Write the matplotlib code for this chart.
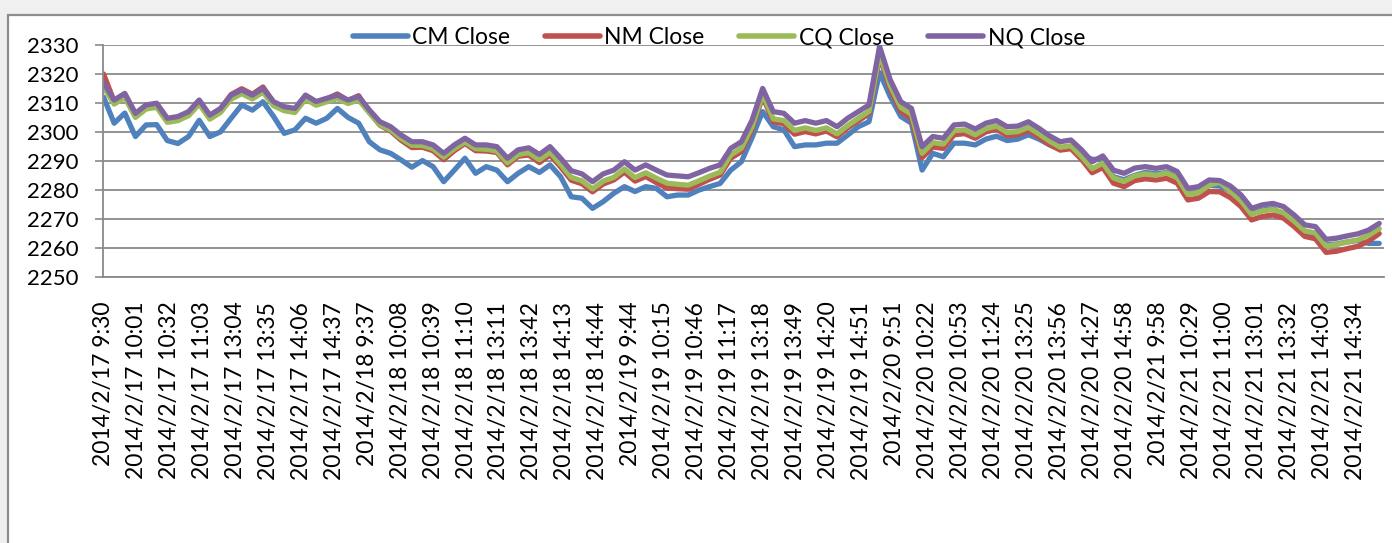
import numpy as np
import matplotlib
matplotlib.use("Agg")
import matplotlib.pyplot as plt
from matplotlib.patches import Rectangle

plt.rcParams['font.family'] = ['Lato', 'DejaVu Sans']

# tick labels, one every 31 minute-bars
tick_labels = [
    "2014/2/17 9:30", "2014/2/17 10:01", "2014/2/17 10:32", "2014/2/17 11:03",
    "2014/2/17 13:04", "2014/2/17 13:35", "2014/2/17 14:06", "2014/2/17 14:37",
    "2014/2/18 9:37", "2014/2/18 10:08", "2014/2/18 10:39", "2014/2/18 11:10",
    "2014/2/18 13:11", "2014/2/18 13:42", "2014/2/18 14:13", "2014/2/18 14:44",
    "2014/2/19 9:44", "2014/2/19 10:15", "2014/2/19 10:46", "2014/2/19 11:17",
    "2014/2/19 13:18", "2014/2/19 13:49", "2014/2/19 14:20", "2014/2/19 14:51",
    "2014/2/20 9:51", "2014/2/20 10:22", "2014/2/20 10:53", "2014/2/20 11:24",
    "2014/2/20 13:25", "2014/2/20 13:56", "2014/2/20 14:27", "2014/2/20 14:58",
    "2014/2/21 9:58", "2014/2/21 10:29", "2014/2/21 11:00", "2014/2/21 13:01",
    "2014/2/21 13:32", "2014/2/21 14:03", "2014/2/21 14:34",
]
n_bars = 1205          # minute bars in the 5 days
label_step = 31
sample_step = 10       # values below read every 10 bars

cm_close = [
    2312.0, 2303.0, 2306.5, 2298.4, 2302.4, 2302.5, 2297.0, 2296.0, 2298.4, 2304.0,
    2298.4, 2300.0, 2304.7, 2309.3, 2307.5, 2310.4, 2305.3, 2299.5, 2300.7, 2304.7,
    2303.0, 2304.7, 2308.1, 2305.0, 2303.0, 2296.6, 2293.8, 2292.6, 2290.3, 2287.8,
    2290.1, 2288.0, 2282.8, 2286.8, 2290.9, 2285.7, 2288.0, 2286.8, 2282.8, 2285.7,
    2288.0, 2286.0, 2288.6, 2284.5, 2277.6, 2277.1, 2273.6, 2275.9, 2278.8, 2281.1,
    2279.4, 2281.1, 2280.5, 2277.6, 2278.2, 2278.2, 2279.9, 2281.1, 2282.2, 2286.8,
    2289.7, 2298.0, 2307.0, 2301.8, 2300.7, 2294.9, 2295.5, 2295.5, 2296.1, 2296.1,
    2298.9, 2301.8, 2303.5, 2320.5, 2312.2, 2305.3, 2303.0, 2286.8, 2292.6, 2291.4,
    2296.1, 2296.1, 2295.5, 2297.5, 2298.5, 2297.0, 2297.5, 2299.0, 2297.5, 2295.5,
    2294.0, 2294.5, 2292.0, 2290.5, 2290.5, 2284.5, 2283.5, 2285.0, 2286.0, 2285.5,
    2286.0, 2284.5, 2278.5, 2279.0, 2281.5, 2281.3, 2279.5, 2276.5, 2271.8, 2273.0,
    2273.5, 2271.5, 2268.3, 2265.2, 2264.5, 2261.0, 2261.3, 2262.0, 2262.5, 2261.5,
    2261.5,
]
nm_close = [
    2320.0, 2310.5, 2312.9, 2305.9, 2309.0, 2309.5, 2304.4, 2304.8, 2306.7, 2310.8,
    2305.4, 2307.8, 2312.9, 2314.9, 2313.0, 2315.5, 2310.2, 2308.4, 2307.7, 2312.5,
    2310.2, 2311.4, 2313.1, 2310.8, 2312.5, 2306.8, 2302.3, 2300.3, 2297.1, 2294.6,
    2294.7, 2293.5, 2290.4, 2293.5, 2296.0, 2293.5, 2293.4, 2292.9, 2288.6, 2291.6,
    2292.0, 2289.4, 2292.0, 2287.9, 2283.3, 2282.1, 2279.3, 2282.0, 2283.4, 2286.1,
    2283.0, 2284.6, 2282.5, 2280.6, 2280.4, 2280.2, 2281.9, 2283.6, 2285.1, 2290.9,
    2293.2, 2300.8, 2312.2, 2303.5, 2302.8, 2299.2, 2300.1, 2299.3, 2300.3, 2298.3,
    2301.4, 2303.8, 2306.3, 2326.0, 2314.8, 2307.1, 2304.6, 2291.1, 2294.8, 2294.3,
    2299.0, 2299.4, 2297.8, 2300.0, 2300.9, 2298.7, 2299.0, 2300.5, 2298.2, 2295.6,
    2293.7, 2294.2, 2290.5, 2285.9, 2287.7, 2282.3, 2281.1, 2283.2, 2283.8, 2283.4,
    2284.0, 2282.3, 2276.5, 2277.1, 2279.4, 2279.3, 2277.3, 2274.2, 2269.6, 2270.8,
    2271.3, 2270.2, 2267.3, 2263.9, 2263.1, 2258.4, 2258.8, 2259.7, 2260.5, 2262.3,
    2264.9,
]
cq_close = [
    2315.5, 2309.6, 2311.9, 2305.0, 2307.9, 2308.5, 2303.3, 2303.9, 2305.6, 2309.6,
    2304.4, 2306.7, 2311.3, 2313.2, 2311.4, 2313.7, 2309.0, 2307.3, 2306.7, 2311.3,
    2309.2, 2310.4, 2311.5, 2309.8, 2311.0, 2306.6, 2302.4, 2300.7, 2297.7, 2295.4,
    2295.3, 2294.2, 2291.3, 2294.2, 2296.5, 2294.2, 2294.0, 2293.4, 2289.3, 2292.2,
    2292.8, 2290.4, 2293.0, 2288.8, 2284.3, 2283.1, 2280.3, 2283.0, 2284.3, 2287.2,
    2284.2, 2285.9, 2284.0, 2282.3, 2281.9, 2281.6, 2283.1, 2284.7, 2286.1, 2292.0,
    2294.4, 2301.8, 2313.0, 2304.5, 2303.9, 2300.5, 2301.4, 2300.5, 2301.4, 2299.3,
    2302.2, 2304.7, 2307.1, 2327.0, 2316.0, 2308.4, 2306.1, 2292.6, 2296.3, 2295.8,
    2300.4, 2300.7, 2299.0, 2301.1, 2302.0, 2299.8, 2300.1, 2301.6, 2299.3, 2296.8,
    2294.7, 2295.2, 2291.5, 2287.3, 2289.2, 2284.1, 2282.9, 2284.8, 2285.5, 2285.0,
    2285.8, 2284.2, 2278.4, 2279.0, 2281.6, 2282.6, 2279.5, 2276.2, 2271.5, 2272.7,
    2273.2, 2272.1, 2269.2, 2265.8, 2265.1, 2260.6, 2261.1, 2262.0, 2262.7, 2264.3,
    2266.6,
]
nq_close = [
    2317.0, 2311.0, 2313.3, 2306.4, 2309.3, 2309.9, 2304.7, 2305.3, 2307.0, 2311.0,
    2305.8, 2308.1, 2312.7, 2314.5, 2312.7, 2315.0, 2310.4, 2308.7, 2308.1, 2312.7,
    2310.5, 2311.6, 2312.7, 2311.0, 2312.2, 2307.6, 2303.5, 2301.8, 2298.9, 2296.6,
    2296.6, 2295.5, 2292.6, 2295.5, 2297.8, 2295.5, 2295.5, 2294.9, 2290.9, 2293.8,
    2294.5, 2292.2, 2294.9, 2290.9, 2286.6, 2285.5, 2282.8, 2285.5, 2286.8, 2289.7,
    2286.8, 2288.6, 2286.8, 2285.1, 2284.8, 2284.5, 2285.9, 2287.4, 2288.6, 2294.3,
    2296.6, 2304.0, 2315.0, 2307.0, 2306.4, 2303.0, 2303.9, 2303.0, 2303.9, 2301.8,
    2304.7, 2307.0, 2309.3, 2329.5, 2318.0, 2310.4, 2308.1, 2294.9, 2298.4, 2297.8,
    2302.4, 2302.7, 2301.0, 2303.0, 2303.9, 2301.8, 2302.0, 2303.5, 2301.2, 2298.6,
    2296.6, 2297.2, 2293.8, 2289.7, 2291.7, 2286.8, 2285.7, 2287.5, 2288.0, 2287.4,
    2288.0, 2286.3, 2280.5, 2281.1, 2283.4, 2283.2, 2281.3, 2278.2, 2273.6, 2274.8,
    2275.3, 2274.2, 2271.3, 2267.9, 2267.3, 2262.9, 2263.3, 2264.1, 2264.8, 2266.1,
    2268.4,
]

series = [("CM Close", cm_close, "#4f81bd"),
          ("NM Close", nm_close, "#c0504d"),
          ("CQ Close", cq_close, "#9bbb59"),
          ("NQ Close", nq_close, "#8064a2")]

W, H = 1392, 543
fig = plt.figure(figsize=(W / 100, H / 100), dpi=100, facecolor="#f0f0f0")
# white chart area with grey border, kept behind the axes
border = Rectangle((7.5 / W, -0.1), 1.2, 1.1 - 15 / H,
                   transform=fig.transFigure, facecolor="white",
                   edgecolor="#8c8c8c", lw=1.6, zorder=-10)
fig.add_artist(border)

ax = fig.add_axes([103 / W, (H - 276.7) / H, (1384 - 103) / W, (276.7 - 45) / H])
ax.set_facecolor("none")
ax.set_zorder(1)

grey = "#8a8a8a"
x = np.arange(0, n_bars, sample_step)
for name, vals, col in series:
    ax.plot(x, vals, color=col, lw=3.8, label=name,
            solid_joinstyle="round", solid_capstyle="round")

ax.set_xlim(-0.5, n_bars - 0.5)
ax.set_ylim(2250, 2330)
ax.set_yticks(np.arange(2250, 2331, 10))
ax.yaxis.grid(True, color=grey, lw=1.3)
ax.set_axisbelow(True)

ax.set_xticks(np.arange(len(tick_labels)) * label_step)
ax.set_xticklabels(tick_labels, rotation=90, va="top", ha="center")

ax.tick_params(axis="y", length=5.8, width=1.2, color=grey, pad=12, labelsize=16)
ax.tick_params(axis="x", length=0, pad=18, labelsize=16.5)

for s in ["top", "right"]:
    ax.spines[s].set_visible(False)
for s in ["left", "bottom"]:
    ax.spines[s].set_color(grey)
    ax.spines[s].set_linewidth(1.3)

leg = fig.legend(loc="center", bbox_to_anchor=(719 / W, 1 - 38 / H), ncol=4,
                 frameon=False, fontsize=16.5, handlelength=2.4, handletextpad=0.2,
                 columnspacing=1.5)
leg.set_zorder(5)
for h in leg.get_lines():
    h.set_linewidth(4)

fig.savefig("out.png", dpi=100, facecolor=fig.get_facecolor())
